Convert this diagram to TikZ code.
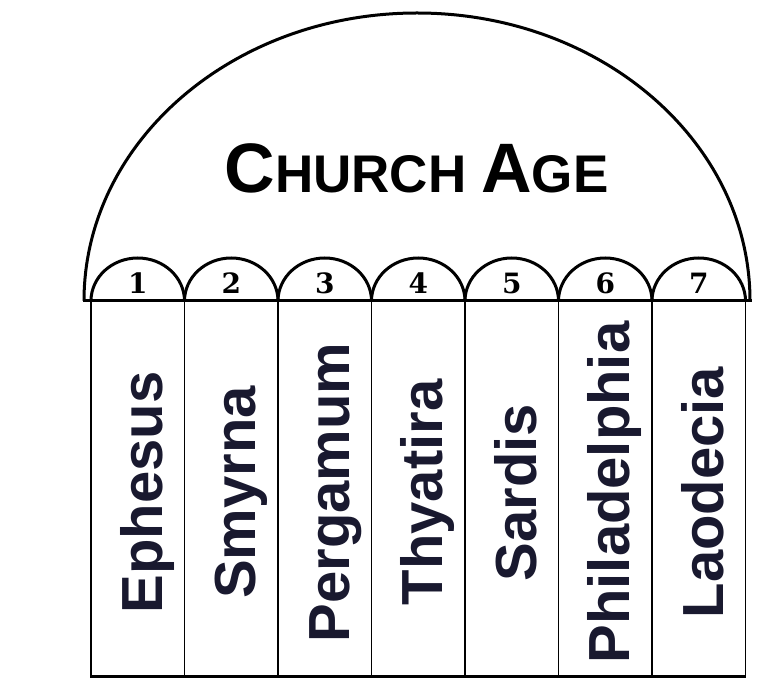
\documentclass[tikz,border=0pt]{standalone}
\usepackage{fontspec}
\usepackage{tikz}
\newfontfamily\cityfont{Liberation Sans}
\newfontfamily\numfont{DejaVu Serif}
\definecolor{ink}{HTML}{19192F}

\begin{document}
\begin{tikzpicture}[x=1pt,y=1pt]
      \tikzstyle{column}=[draw=black,line width=1.8pt,minimum width=93.5pt,minimum height=375pt,inner sep=0pt]
      \tikzstyle{city}=[rotate=90,inner sep=0pt,text height=49pt,text depth=0pt,text=ink,font=\cityfont\bfseries\fontsize{58}{60}\selectfont]
      \tikzstyle{num}=[anchor=base,inner sep=0pt,font=\numfont\bfseries\fontsize{28}{28}\selectfont]
      \tikzstyle{arch}=[line width=3pt]
      \tikzstyle{bar}=[line width=3pt]
      \useasboundingbox (0,0) rectangle (783,694);
      \node[column] (ephesus) at (137.75,205.5) {};
      \node[column] (smyrna) at (231.25,205.5) {};
      \node[column] (pergamum) at (324.75,205.5) {};
      \node[column] (thyatira) at (418.25,205.5) {};
      \node[column] (sardis) at (511.75,205.5) {};
      \node[column] (philadelphia) at (605.25,205.5) {};
      \node[column] (laodecia) at (698.75,205.5) {};
      \node[city] (ephesus-name) at ([yshift=-4pt]ephesus.center) {Ephesus};
      \node[city] (smyrna-name) at ([yshift=-4pt]smyrna.center) {Smyrna};
      \node[city] (pergamum-name) at ([yshift=-4pt]pergamum.center) {Pergamum};
      \node[city] (thyatira-name) at ([yshift=-4pt]thyatira.center) {Thyatira};
      \node[city] (sardis-name) at ([yshift=-4pt]sardis.center) {Sardis};
      \node[city] (philadelphia-name) at ([yshift=-4pt]philadelphia.center) {Philadelphia};
      \node[city] (laodecia-name) at ([yshift=-4pt]laodecia.center) {Laodecia};
      \draw[bar] (90.2,18) -- (746.3,18);
      \draw[arch] (84,393) arc[start angle=180,end angle=0,x radius=333,y radius=288];
      \draw[arch] (91,393) arc[start angle=180,end angle=0,x radius=46.75,y radius=43];
      \draw[arch] (184.5,393) arc[start angle=180,end angle=0,x radius=46.75,y radius=43];
      \draw[arch] (278,393) arc[start angle=180,end angle=0,x radius=46.75,y radius=43];
      \draw[arch] (371.5,393) arc[start angle=180,end angle=0,x radius=46.75,y radius=43];
      \draw[arch] (465,393) arc[start angle=180,end angle=0,x radius=46.75,y radius=43];
      \draw[arch] (558.5,393) arc[start angle=180,end angle=0,x radius=46.75,y radius=43];
      \draw[arch] (652,393) arc[start angle=180,end angle=0,x radius=46.75,y radius=43];
      \draw[bar] (82.5,393) -- (751.5,393);
      \node[num] (n1) at (137.75,400) {1};
      \node[num] (n2) at (231.25,400) {2};
      \node[num] (n3) at (324.75,400) {3};
      \node[num] (n4) at (418.25,400) {4};
      \node[num] (n5) at (511.75,400) {5};
      \node[num] (n6) at (605.25,400) {6};
      \node[num] (n7) at (698.75,400) {7};
      \node[anchor=base,inner sep=0pt,font=\cityfont\bfseries] (title) at (416.5,501) {\fontsize{70}{70}\selectfont C\fontsize{53}{53}\selectfont HURCH \fontsize{70}{70}\selectfont A\fontsize{53}{53}\selectfont GE};
    \end{tikzpicture}
\end{document}
